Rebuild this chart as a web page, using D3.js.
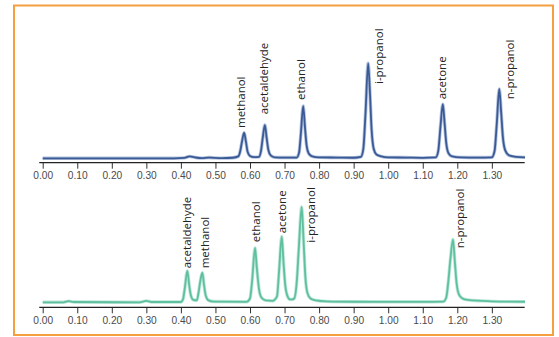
<!DOCTYPE html>
<html>
<head>
<meta charset="utf-8">
<script src="https://cdn.jsdelivr.net/npm/d3@7"></script>
<style>
  html, body { margin: 0; padding: 0; background: #fff; }
  svg { display: block; font-family: "Open Sans", sans-serif; }
  .tick text { fill: #4a4a4a; font-size: 10.2px; }
  .tick line { stroke: #333; }
  .peak-label { fill: #222; font-size: 11.5px; }
</style>
</head>
<body>
<div id="chart"></div>
<script>
// retention time axis ticks
const tickValues = [0, 0.1, 0.2, 0.3, 0.4, 0.5, 0.6, 0.7, 0.8, 0.9, 1.0, 1.1, 1.2, 1.3];

// top chromatogram: compound names + retention times (min)
const topNames = ["methanol", "acetaldehyde", "ethanol", "i-propanol", "acetone", "n-propanol"];
const topTimes = [0.583, 0.643, 0.754, 0.942, 1.158, 1.3215];

// bottom chromatogram
const botNames = ["acetaldehyde", "methanol", "ethanol", "acetone", "i-propanol", "n-propanol"];
const botTimes = [0.4186, 0.462, 0.6145, 0.6918, 0.7496, 1.1875];

// detector trace (time, signal; i-propanol apex = 100)
const topTrace = [
  [0.000, 0], [0.380, 0], [0.410, 0.5], [0.425, 2.0], [0.440, 1.0], [0.460, 0.2],
  [0.480, 0.8], [0.495, 0.5], [0.520, 0.2], [0.550, 0.6],
  [0.566, 2], [0.572, 8], [0.577, 18], [0.583, 27], [0.588, 18], [0.593, 7], [0.600, 2.5], [0.612, 1.2],
  [0.626, 1.5], [0.632, 8], [0.637, 22], [0.643, 35], [0.648, 22], [0.653, 9], [0.660, 3], [0.672, 1],
  [0.700, 0.8], [0.735, 0.8], [0.742, 6], [0.747, 25], [0.754, 55], [0.759, 33], [0.764, 13], [0.770, 5],
  [0.780, 2], [0.800, 1], [0.850, 0.8], [0.900, 0.6],
  [0.921, 1.5], [0.928, 10], [0.934, 45], [0.942, 100], [0.947, 70], [0.952, 30], [0.958, 10], [0.966, 4],
  [0.980, 2], [1.000, 1], [1.050, 0.8], [1.100, 0.5],
  [1.138, 1], [1.145, 8], [1.151, 32], [1.158, 57], [1.163, 38], [1.168, 16], [1.175, 5], [1.185, 2],
  [1.210, 1], [1.260, 0.8], [1.300, 1],
  [1.308, 8], [1.314, 35], [1.3215, 73], [1.327, 48], [1.332, 22], [1.339, 8], [1.350, 3],
  [1.370, 1.5], [1.396, 1]
];

const botTrace = [
  [0.000, 0], [0.060, 0], [0.075, 1.2], [0.090, 0.3], [0.280, 0], [0.300, 1.5], [0.315, 0.3],
  [0.400, 0.3], [0.406, 3], [0.411, 14], [0.4186, 33], [0.424, 18], [0.429, 7], [0.436, 2.5],
  [0.446, 2], [0.451, 10], [0.456, 22], [0.462, 31], [0.467, 18], [0.472, 7], [0.480, 2], [0.495, 0.8],
  [0.590, 0.5], [0.600, 4], [0.606, 22], [0.6145, 57], [0.620, 35], [0.626, 14], [0.633, 5], [0.645, 2],
  [0.665, 1.5], [0.678, 6], [0.684, 32], [0.6918, 69], [0.697, 42], [0.702, 18], [0.709, 6], [0.716, 3],
  [0.722, 3], [0.728, 4], [0.735, 20], [0.741, 55], [0.7496, 100], [0.755, 65], [0.760, 28], [0.766, 10],
  [0.775, 4], [0.790, 2], [0.820, 1], [0.900, 0.6], [1.000, 0.5], [1.100, 0.5],
  [1.160, 0.8], [1.168, 5], [1.174, 22], [1.180, 45], [1.1875, 66], [1.193, 42], [1.198, 20], [1.205, 8],
  [1.215, 4], [1.230, 2.5], [1.270, 1.5], [1.300, 1], [1.396, 0.6]
];

const W = 559, H = 337;

// label nudges in px (x from peak, y = bottom of text)
const topLabelDx = [1, 3.5, 2.2, 14.7, 3.3, 14.7];
const topLabelY = [128, 114.3, 100, 84, 99.3, 99.3];
const botLabelDx = [3.7, 6.7, 4.5, 4.3, 13.3, 11];
const botLabelY = [268.3, 268.3, 242.3, 233.3, 242.7, 248.3];

const svg = d3.select("#chart").append("svg").attr("width", W).attr("height", H);

// orange frame
svg.append("rect")
  .attr("x", 14).attr("y", 5.5).attr("width", 539).attr("height", 329.5)
  .attr("fill", "#fff").attr("stroke", "#f4a040").attr("stroke-width", 2);

const x = d3.scaleLinear().domain([0, 1.4]).range([42.7, 526.4]);

function panel(trace, names, times, labelDx, labelY, axisY, baseY, topY, colLight, colDark) {
  const y = d3.scaleLinear().domain([0, 100]).range([baseY, topY]);

  const axis = d3.axisBottom(x)
    .tickValues(tickValues)
    .tickFormat(d3.format(".2f"))
    .tickSize(6)
    .tickSizeOuter(0)
    .tickPadding(3.5);
  const gA = svg.append("g").attr("transform", `translate(0,${axisY})`).call(axis);
  gA.select(".domain").remove();
  gA.append("line")
    .attr("x1", x(-0.01)).attr("x2", x(1.395))
    .attr("stroke", "#222").attr("stroke-width", 1.2);

  const line = d3.line()
    .x(d => x(d[0]))
    .y(d => y(d[1]))
    .curve(d3.curveMonotoneX);

  // soft halo + core line
  svg.append("path").datum(trace)
    .attr("d", line).attr("fill", "none")
    .attr("stroke", colLight).attr("stroke-width", 3.4).attr("stroke-linejoin", "round")
    .attr("opacity", 0.75);
  svg.append("path").datum(trace)
    .attr("d", line).attr("fill", "none")
    .attr("stroke", colDark).attr("stroke-width", 1.8).attr("stroke-linejoin", "round");

  svg.append("g").selectAll("text")
    .data(names)
    .join("text")
    .attr("class", "peak-label")
    .attr("transform", (d, i) => `translate(${x(times[i]) + labelDx[i]},${labelY[i]}) rotate(-90)`)
    .text(d => d);
}

panel(topTrace, topNames, topTimes, topLabelDx, topLabelY, 162.7, 158.3, 63.3, "#98acd2", "#3a5a95");
panel(botTrace, botNames, botTimes, botLabelDx, botLabelY, 307.3, 302.3, 207, "#a6e0cb", "#5fbf9e");
</script>
</body>
</html>
